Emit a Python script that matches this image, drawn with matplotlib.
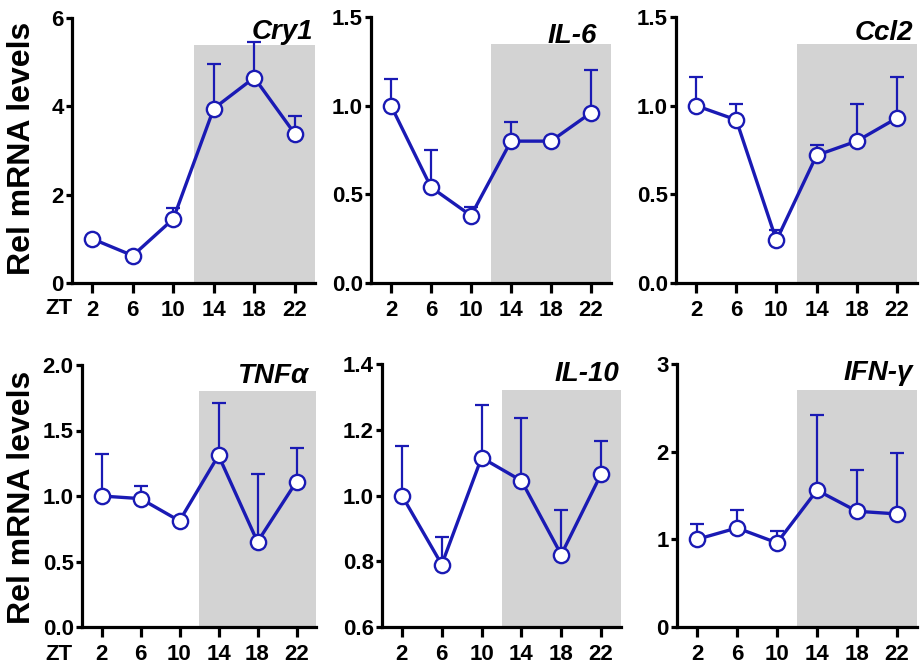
import matplotlib
matplotlib.use("Agg")
import matplotlib.pyplot as plt
from matplotlib.ticker import FixedLocator, FormatStrFormatter
from matplotlib.transforms import IdentityTransform

plt.rcParams['font.family'] = ['Liberation Sans', 'DejaVu Sans']
plt.rcParams['font.weight'] = 'bold'

# ---- data ----
zt = [2, 6, 10, 14, 18, 22]
zt_labels = ["2", "6", "10", "14", "18", "22"]

genes = ["Cry1", "IL-6", "Ccl2", "TNFα", "IL-10", "IFN-γ"]

cry1_mean = [1.00, 0.62, 1.45, 3.95, 4.65, 3.38]
cry1_err = [0.05, 0.03, 0.25, 1.00, 0.80, 0.40]

il6_mean = [1.00, 0.54, 0.38, 0.80, 0.80, 0.96]
il6_err = [0.15, 0.21, 0.05, 0.11, 0.00, 0.24]

ccl2_mean = [1.00, 0.92, 0.24, 0.72, 0.80, 0.93]
ccl2_err = [0.16, 0.09, 0.06, 0.06, 0.21, 0.23]

tnfa_mean = [1.00, 0.98, 0.81, 1.31, 0.65, 1.11]
tnfa_err = [0.32, 0.10, 0.00, 0.40, 0.52, 0.26]

il10_mean = [1.00, 0.79, 1.115, 1.045, 0.82, 1.065]
il10_err = [0.15, 0.085, 0.16, 0.19, 0.135, 0.10]

ifng_mean = [1.00, 1.13, 0.96, 1.56, 1.32, 1.29]
ifng_err = [0.17, 0.20, 0.13, 0.86, 0.47, 0.69]

means = [cry1_mean, il6_mean, ccl2_mean, tnfa_mean, il10_mean, ifng_mean]
errs = [cry1_err, il6_err, ccl2_err, tnfa_err, il10_err, ifng_err]

ylims = [(0, 6), (0, 1.5), (0, 1.5), (0, 2.0), (0.6, 1.4), (0, 3)]
yticks = [[0, 2, 4, 6], [0, 0.5, 1.0, 1.5], [0, 0.5, 1.0, 1.5],
          [0, 0.5, 1.0, 1.5, 2.0], [0.6, 0.8, 1.0, 1.2, 1.4], [0, 1, 2, 3]]
yfmts = ["%d", "%.1f", "%.1f", "%.1f", "%.1f", "%d"]

dark_start, dark_end = 12, 24

# ---- layout (pixels: left, right, top, bottom) ----
W, H = 921, 670
boxes = [(72, 315, 18, 283), (371, 611, 17, 283), (676, 917, 17, 283),
         (82, 316, 365, 627), (382, 621, 364, 627), (677, 917, 364, 627)]
title_dx = [2, 14, 4, 8, 2, 4]
title_dy = [14, 19, 16, 11, 10, 9]

blue = '#1a1ab4'
fig = plt.figure(figsize=(W / 100, H / 100), dpi=100)

for i in range(6):
    l, r, t, b = boxes[i]
    ax = fig.add_axes([l / W, 1 - b / H, (r - l) / W, (b - t) / H])
    ax.set_xlim(0, 24)
    ax.set_ylim(*ylims[i])
    ax.axvspan(dark_start, dark_end, ymin=0, ymax=0.9, color='#d3d3d3', lw=0, zorder=0)
    ax.errorbar(zt, means[i], yerr=[[0] * 6, errs[i]], fmt='none', ecolor=blue,
                elinewidth=1.6, capsize=4.8, capthick=1.6, zorder=2)
    ax.plot(zt, means[i], '-o', color=blue, lw=2.4, ms=11, mfc='white',
            mec=blue, mew=1.7, zorder=3)
    for s in ['top', 'right']:
        ax.spines[s].set_visible(False)
    for s in ['left', 'bottom']:
        ax.spines[s].set_linewidth(2.3)
    ax.xaxis.set_major_locator(FixedLocator(zt))
    ax.set_xticklabels(zt_labels)
    ax.yaxis.set_major_locator(FixedLocator(yticks[i]))
    ax.yaxis.set_major_formatter(FormatStrFormatter(yfmts[i]))
    ax.tick_params(axis='x', length=7, width=2.3, labelsize=16, pad=5)
    ax.tick_params(axis='y', length=4, width=2.3, labelsize=16, pad=2)
    for lab in ax.get_xticklabels() + ax.get_yticklabels():
        lab.set_fontweight('bold')
    fig.text(r - title_dx[i], H - (t + title_dy[i]), genes[i],
             transform=IdentityTransform(), ha='right', va='center',
             fontsize=20, fontweight='bold', fontstyle='italic')

for yc in (148, 497):
    fig.text(22 / W, 1 - yc / H, "Rel mRNA levels", rotation=90, ha='center',
             va='center', fontsize=23, fontweight='bold')
for yc in (309, 655):
    fig.text(59 / W, 1 - yc / H, "ZT", ha='center', va='center',
             fontsize=16, fontweight='bold')

fig.savefig("out.png", dpi=100)
